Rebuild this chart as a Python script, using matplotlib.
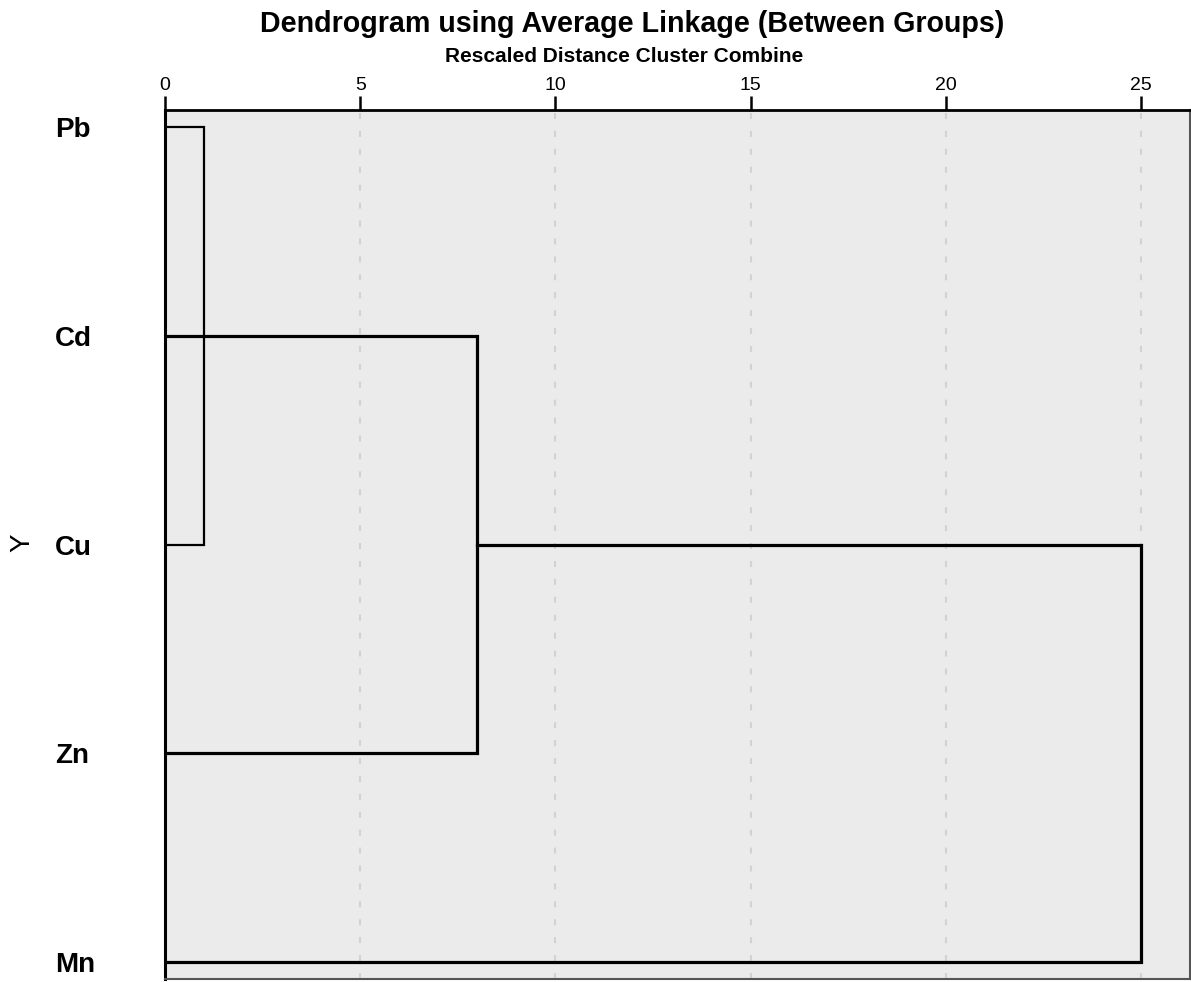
import matplotlib
matplotlib.use("Agg")
import matplotlib.pyplot as plt

plt.rcParams["font.family"] = ["Liberation Sans", "DejaVu Sans"]
plt.rcParams["lines.scale_dashes"] = False

# Leaves in display order (top to bottom)
leaf_labels = ["Pb", "Cd", "Cu", "Zn", "Mn"]
leaf_rows = [1, 2, 3, 4, 5]

# Each merge: rows of the two branches, where each branch starts, and the merge height
merge_rows = [(1, 3), (2, 4), (3, 5)]
merge_starts = [(0, 0), (0, 0), (8, 0)]
merge_heights = [1, 8, 25]
merge_widths = [1.6, 2.3, 2.3]

x_ticks = [0, 5, 10, 15, 20, 25]

fig = plt.figure(figsize=(11.91, 9.82), dpi=100)
ax = fig.add_axes([165 / 1191, 3 / 982, 1025 / 1191, 869 / 982])
ax.set_facecolor("#ebebeb")

for (ra, rb), (sa, sb), h, w in zip(merge_rows, merge_starts, merge_heights, merge_widths):
    ax.plot([sa, h, h, sb], [ra, ra, rb, rb], color="black", lw=w,
            solid_joinstyle="miter", zorder=3, clip_on=True)

ax.set_xlim(0, 26.25)
ax.set_ylim(5.08, 0.92)

ax.xaxis.tick_top()
ax.set_xticks(x_ticks)
ax.set_xticklabels([str(t) for t in x_ticks], fontsize=14)
ax.tick_params(axis="x", direction="out", length=10, width=1.8, pad=1.5, colors="black")
ax.xaxis.grid(True, color="#d2d2d2", lw=1.5, linestyle=(0, (4.3, 8.6)))
ax.set_axisbelow(True)

ax.set_yticks(leaf_rows)
ax.set_yticklabels(leaf_labels, fontsize=20, fontweight="bold", ha="left")
ax.tick_params(axis="y", length=0, pad=79)

ax.spines["top"].set_linewidth(2.0)
ax.spines["top"].set_color("black")
ax.spines["left"].set_linewidth(2.2)
ax.spines["left"].set_color("black")
for s in ("right", "bottom"):
    ax.spines[s].set_linewidth(1.5)
    ax.spines[s].set_color("#555555")

fig.text(632 / 1191, 1 - 32 / 982, "Dendrogram using Average Linkage (Between Groups)",
         ha="center", va="baseline", fontsize=20.6, fontweight="bold")
fig.text(624 / 1191, 1 - 62 / 982, "Rescaled Distance Cluster Combine",
         ha="center", va="baseline", fontsize=15, fontweight="bold")
fig.text(22 / 1191, 1 - 543 / 982, "Y", rotation=90, ha="center", va="center", fontsize=20)

fig.savefig("out.png", dpi=100)
